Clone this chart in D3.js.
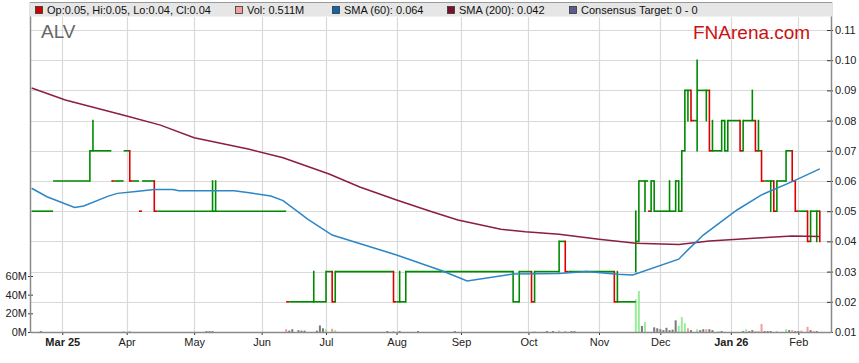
<!DOCTYPE html>
<html>
<head>
<meta charset="utf-8">
<script src="https://cdn.jsdelivr.net/npm/d3@7"></script>
<style>
  body { margin: 0; background: #fff; font-family: Arial, "Liberation Sans", sans-serif; }
  #chart svg { display: block; }
</style>
</head>
<body>
<div id="chart"></div>
<script>
// month ticks (first trading day of each month)
const tickDates = ["2025-03-03", "2025-04-01", "2025-05-01", "2025-06-02", "2025-07-01", "2025-08-01",
  "2025-09-01", "2025-10-01", "2025-11-03", "2025-12-01", "2026-01-01", "2026-02-02"];
const tickLabels = ["Mar 25", "Apr", "May", "Jun", "Jul", "Aug", "Sep", "Oct", "Nov", "Dec", "Jan 26", "Feb"];
const tickBold = ["Mar 25", "Jan 26"];
const priceTicks = [0.01, 0.02, 0.03, 0.04, 0.05, 0.06, 0.07, 0.08, 0.09, 0.10, 0.11];
const volTicks = [0, 20, 40, 60];

// daily price bars (only days where something happened)
const barDates = ["2025-02-17", "2025-02-26", "2025-03-14", "2025-03-17", "2025-03-25", "2025-03-31", "2025-04-02",
  "2025-04-07", "2025-04-08", "2025-04-14", "2025-05-09", "2025-05-12", "2025-06-12", "2025-06-25", "2025-07-01",
  "2025-07-03", "2025-07-04", "2025-07-31", "2025-08-04", "2025-08-06", "2025-09-24", "2025-09-26", "2025-10-02",
  "2025-10-03", "2025-10-15", "2025-10-17", "2025-11-10", "2025-11-11", "2025-11-19", "2025-11-20", "2025-11-24",
  "2025-11-25", "2025-11-26", "2025-11-27", "2025-12-04", "2025-12-08", "2025-12-09", "2025-12-10", "2025-12-11",
  "2025-12-12", "2025-12-15", "2025-12-17", "2025-12-22", "2025-12-23", "2025-12-24", "2025-12-29", "2025-12-30",
  "2025-12-31", "2026-01-06", "2026-01-07", "2026-01-12", "2026-01-13", "2026-01-14", "2026-01-15", "2026-01-20",
  "2026-01-21", "2026-01-22", "2026-01-27", "2026-01-29", "2026-01-30", "2026-02-05", "2026-02-06", "2026-02-10",
  "2026-02-11"];
const barHigh = [0.05, 0.06, 0.07, 0.08, 0.06, 0.07, 0.07, 0.05, 0.06, 0.06, 0.06, 0.06, 0.02, 0.03, 0.03,
  0.03, 0.03, 0.03, 0.03, 0.03, 0.03, 0.03, 0.03, 0.03, 0.04, 0.04, 0.03, 0.03, 0.05, 0.06, 0.06,
  0.05, 0.06, 0.06, 0.06, 0.06, 0.06, 0.07, 0.09, 0.09, 0.09, 0.10, 0.09, 0.09, 0.08, 0.08, 0.08,
  0.08, 0.08, 0.08, 0.09, 0.08, 0.08, 0.07, 0.06, 0.06, 0.06, 0.07, 0.07, 0.06, 0.05, 0.05, 0.05,
  0.05];
const barLow = [0.05, 0.06, 0.06, 0.07, 0.06, 0.07, 0.06, 0.05, 0.06, 0.05, 0.05, 0.05, 0.02, 0.02, 0.02,
  0.02, 0.02, 0.02, 0.02, 0.02, 0.02, 0.02, 0.02, 0.02, 0.03, 0.03, 0.02, 0.02, 0.03, 0.04, 0.05,
  0.05, 0.05, 0.05, 0.05, 0.05, 0.05, 0.05, 0.07, 0.08, 0.08, 0.07, 0.08, 0.07, 0.07, 0.07, 0.07,
  0.07, 0.07, 0.07, 0.08, 0.07, 0.07, 0.06, 0.05, 0.05, 0.05, 0.06, 0.06, 0.05, 0.04, 0.04, 0.04,
  0.04];
const barClose = [0.05, 0.06, 0.07, 0.07, 0.06, 0.07, 0.06, 0.05, 0.06, 0.05, 0.05, 0.05, 0.02, 0.02, 0.03,
  0.02, 0.03, 0.02, 0.02, 0.03, 0.02, 0.03, 0.02, 0.03, 0.04, 0.03, 0.02, 0.02, 0.04, 0.06, 0.06,
  0.05, 0.06, 0.05, 0.05, 0.06, 0.05, 0.07, 0.09, 0.09, 0.08, 0.09, 0.09, 0.07, 0.07, 0.08, 0.07,
  0.08, 0.07, 0.08, 0.08, 0.07, 0.07, 0.06, 0.06, 0.05, 0.06, 0.07, 0.06, 0.05, 0.04, 0.05, 0.05,
  0.04];
const barDown = [0, 0, 0, 0, 1, 0, 1, 1, 0, 1, 0, 0, 1, 0, 0,
  1, 0, 1, 0, 0, 0, 0, 1, 0, 0, 1, 1, 0, 0, 0, 0,
  1, 0, 0, 0, 0, 0, 0, 0, 0, 1, 0, 0, 1, 0, 0, 0,
  0, 1, 0, 0, 1, 0, 1, 0, 1, 0, 0, 1, 1, 1, 0, 0,
  1];

// daily volume in millions, u = up day, d = down day, n = unchanged
const volDates = ["2025-02-20", "2025-03-31", "2025-04-02", "2025-05-07", "2025-05-08", "2025-05-09", "2025-06-12",
  "2025-06-13", "2025-06-16", "2025-06-18", "2025-06-19", "2025-06-20", "2025-06-26", "2025-06-27", "2025-06-30",
  "2025-07-01", "2025-07-03", "2025-07-04", "2025-07-29", "2025-07-31", "2025-08-04", "2025-08-12", "2025-08-28",
  "2025-10-03", "2025-10-09", "2025-10-13", "2025-10-15", "2025-10-17", "2025-10-21", "2025-10-22", "2025-11-19",
  "2025-11-20", "2025-11-21", "2025-11-24", "2025-11-27", "2025-11-28", "2025-12-01", "2025-12-02", "2025-12-03",
  "2025-12-04", "2025-12-05", "2025-12-08", "2025-12-09", "2025-12-10", "2025-12-11", "2025-12-12", "2025-12-15",
  "2025-12-17", "2025-12-18", "2025-12-19", "2025-12-22", "2025-12-23", "2025-12-24", "2025-12-26", "2025-12-29",
  "2026-01-07", "2026-01-08", "2026-01-09", "2026-01-12", "2026-01-13", "2026-01-14", "2026-01-15", "2026-01-16",
  "2026-01-19", "2026-01-20", "2026-01-22", "2026-01-27", "2026-01-28", "2026-01-29", "2026-01-30", "2026-02-02",
  "2026-02-03", "2026-02-05", "2026-02-06", "2026-02-09", "2026-02-10"];
const volValues = [1, 1, 1, 1, 1, 1, 3,
  1.5, 3, 2, 1.5, 1.5, 1.5, 7, 4,
  3, 3.5, 2, 1, 1, 1, 1, 1,
  1, 1, 1, 1.5, 1, 1, 1, 35,
  44, 6.5, 10.5, 5, 4, 3, 2, 4.5,
  2, 2.5, 12.5, 6.5, 16, 9.5, 4, 2,
  3, 2, 3, 3, 3, 2, 1, 1,
  1, 3, 1, 2, 1, 1, 8.5, 1,
  1, 1, 1, 3, 2, 2, 1, 1,
  1.5, 5.5, 2, 1, 1];
const volType = ["n", "u", "d", "n", "n", "n", "d",
  "n", "n", "n", "n", "n", "n", "n", "n",
  "u", "d", "u", "n", "d", "n", "n", "n",
  "u", "n", "n", "u", "d", "n", "n", "u",
  "u", "n", "u", "n", "n", "n", "n", "n",
  "n", "n", "n", "u", "u", "u", "d", "n",
  "u", "n", "n", "d", "n", "n", "u", "n",
  "n", "u", "n", "n", "d", "d", "d", "n",
  "n", "n", "u", "u", "n", "d", "n", "n",
  "d", "d", "n", "d", "n"];

// moving averages
const sma60Dates = ["2025-02-17", "2025-02-24", "2025-03-07", "2025-03-12", "2025-03-24", "2025-03-27", "2025-04-04",
  "2025-04-14", "2025-04-22", "2025-04-24", "2025-05-20", "2025-05-27", "2025-06-05", "2025-06-11", "2025-06-18",
  "2025-06-23", "2025-07-03", "2025-08-01", "2025-08-22", "2025-09-03", "2025-09-24", "2025-10-15", "2025-10-28",
  "2025-11-11", "2025-11-18", "2025-12-09", "2025-12-12", "2025-12-19", "2026-01-05", "2026-01-15", "2026-01-29",
  "2026-02-11"];
const sma60Values = [0.0576, 0.0548, 0.0512, 0.0517, 0.0550, 0.0559, 0.0565,
  0.0572, 0.0572, 0.0568, 0.0568, 0.0561, 0.0550, 0.0535, 0.0497,
  0.0474, 0.0421, 0.0355, 0.0302, 0.0269, 0.0292, 0.0294, 0.0300,
  0.0291, 0.0289, 0.0341, 0.0372, 0.0421, 0.0504, 0.0554, 0.0598,
  0.0640];
const sma200Dates = ["2025-02-17", "2025-03-04", "2025-04-01", "2025-04-16", "2025-05-01", "2025-05-27", "2025-06-11",
  "2025-07-02", "2025-07-16", "2025-08-01", "2025-08-18", "2025-08-29", "2025-09-18", "2025-09-30", "2025-10-15",
  "2025-11-03", "2025-11-19", "2025-12-09", "2025-12-23", "2026-01-15", "2026-01-29", "2026-02-11"];
const sma200Values = [0.0908, 0.0868, 0.0815, 0.0785, 0.0743, 0.0705, 0.0677,
  0.0623, 0.0580, 0.0537, 0.0500, 0.0471, 0.0440, 0.0432, 0.0424,
  0.0407, 0.0394, 0.0390, 0.0401, 0.0412, 0.0418, 0.0416];

// legend entries
const legendLabels = ["Op:0.05, Hi:0.05, Lo:0.04, Cl:0.04", "Vol: 0.511M", "SMA (60): 0.064", "SMA (200): 0.042", "Consensus Target: 0 - 0"];
const legendColors = ["#cc0000", "#f4a0a0", "#1465a8", "#7d0f2e", "#5c5c8c"];
const legendX = [35, 235, 332, 447, 569];

// trading days (weekdays) counted from monday 3 march 2025
const baseDay = Date.UTC(2025, 2, 3);
function wd(s) {
  var days = Math.round((Date.parse(s + "T00:00:00Z") - baseDay) / 864e5);
  var weeks = Math.floor(days / 7);
  var rem = days - weeks * 7;
  return weeks * 5 + Math.min(rem, 5);
}

function StockChart() {
  var self = this;
  self.init();
}

StockChart.prototype.init = function () {
  var self = this;
  self.width = 859;
  self.height = 363;
  self.plot = { left: 31, right: 831, top: 17, bottom: 332 };

  self.svg = d3.select("#chart").append("svg")
    .attr("width", self.width)
    .attr("height", self.height);

  // x is a weekday index, so weekends take no room
  self.x = d3.scaleLinear().domain([-10.2, 250.65]).range([self.plot.left, self.plot.right]);
  self.y = d3.scaleLinear().domain([0.01, 0.1143]).range([self.plot.bottom, self.plot.top]);
  self.yVol = d3.scaleLinear().domain([0, 60]).range([self.plot.bottom, 276]);

  self.green = "#008a00";
  self.red = "#dd0000";
}

StockChart.prototype.drawGrid = function () {
  var self = this;
  var g = self.svg.append("g").attr("class", "grid");

  g.selectAll(".hgrid").data(priceTicks.slice(1)).enter().append("line")
    .attr("x1", self.plot.left).attr("x2", self.plot.right)
    .attr("y1", d => Math.round(self.y(d)) + 0.5).attr("y2", d => Math.round(self.y(d)) + 0.5)
    .attr("stroke", "#d9d9d9").attr("stroke-width", 1.2);

  g.selectAll(".vgrid").data(tickDates).enter().append("line")
    .attr("x1", d => Math.round(self.x(wd(d))) + 0.5).attr("x2", d => Math.round(self.x(wd(d))) + 0.5)
    .attr("y1", self.plot.top).attr("y2", self.plot.bottom)
    .attr("stroke", "#d9d9d9").attr("stroke-width", 1.2);
}

StockChart.prototype.drawVolume = function () {
  var self = this;
  var fill = { u: "#98ee98", d: "#f49c9c", n: "#7a7a7a" };
  self.svg.append("g").selectAll("rect").data(volDates).enter().append("rect")
    .attr("x", d => self.x(wd(d)) - 1)
    .attr("width", 2)
    .attr("y", (d, i) => self.yVol(volValues[i]))
    .attr("height", (d, i) => self.plot.bottom - self.yVol(volValues[i]))
    .attr("fill", (d, i) => fill[volType[i]]);
}

StockChart.prototype.drawPrice = function () {
  var self = this;
  var bars = barDates.map(function (d, i) {
    return { i: wd(d), hi: barHigh[i], lo: barLow[i], close: barClose[i], down: barDown[i] === 1 };
  });

  // horizontal pieces: the first day of a drop is red, the flat days after it green
  var segs = [];
  bars.forEach(function (b, k) {
    var next = bars[k + 1];
    if (!next) return;
    var split = b.i;
    if (b.down) {
      split = Math.min(b.i + 1, next.i);
      segs.push({ x0: b.i, x1: split, y: b.close, down: true });
    }
    if (split < next.i) segs.push({ x0: split, x1: next.i, y: b.close, down: false });
  });

  var g = self.svg.append("g").attr("class", "price");
  g.selectAll(".hseg").data(segs).enter().append("line")
    .attr("x1", d => self.x(d.x0)).attr("x2", d => self.x(d.x1))
    .attr("y1", d => self.y(d.y)).attr("y2", d => self.y(d.y))
    .attr("stroke", d => d.down ? self.red : self.green)
    .attr("stroke-width", 1.6);

  // high - low ranges
  g.selectAll(".vseg").data(bars.filter(b => b.hi > b.lo)).enter().append("line")
    .attr("x1", d => self.x(d.i)).attr("x2", d => self.x(d.i))
    .attr("y1", d => self.y(d.lo) + 0.8).attr("y2", d => self.y(d.hi) - 0.8)
    .attr("stroke", d => d.down ? self.red : self.green)
    .attr("stroke-width", 1.6);
}

StockChart.prototype.drawAverages = function () {
  var self = this;
  var line = d3.line()
    .x(d => self.x(wd(d[0])))
    .y(d => self.y(d[1]));

  self.svg.append("path")
    .datum(d3.zip(sma200Dates, sma200Values))
    .attr("d", line)
    .attr("fill", "none")
    .attr("stroke", "#8c1d44")
    .attr("stroke-width", 1.5);

  self.svg.append("path")
    .datum(d3.zip(sma60Dates, sma60Values))
    .attr("d", line)
    .attr("fill", "none")
    .attr("stroke", "#2d86c6")
    .attr("stroke-width", 1.5);
}

StockChart.prototype.drawAxes = function () {
  var self = this;
  var axisColor = "#8a8a8a";

  // right price axis
  var right = self.svg.append("g")
    .attr("transform", "translate(" + self.plot.right + ",0)")
    .call(d3.axisRight(self.y).tickValues(priceTicks).tickFormat(d3.format(".2f")).tickSize(0).tickPadding(4));
  right.select(".domain").remove();
  right.selectAll(".tick").append("line")
    .attr("x1", -4).attr("x2", 2).attr("stroke", "#333");
  right.selectAll("text").attr("font-size", 11).attr("font-family", "Arial, 'Liberation Sans'").attr("fill", "#222");

  // left volume axis
  var left = self.svg.append("g")
    .attr("transform", "translate(" + self.plot.left + ",0)")
    .call(d3.axisLeft(self.yVol).tickValues(volTicks).tickFormat(d => d + "M").tickSize(0).tickPadding(4));
  left.select(".domain").remove();
  left.selectAll(".tick").append("line")
    .attr("x1", -3).attr("x2", 2).attr("stroke", "#333");
  left.selectAll("text").attr("font-size", 11).attr("font-family", "Arial, 'Liberation Sans'").attr("fill", "#222");

  // bottom month axis
  var bottom = self.svg.append("g")
    .attr("transform", "translate(0," + self.plot.bottom + ")")
    .call(d3.axisBottom(self.x).tickValues(tickDates.map(wd))
      .tickFormat((d, i) => tickLabels[i]).tickSize(3).tickPadding(3));
  bottom.select(".domain").remove();
  bottom.selectAll(".tick line").attr("stroke", "#333");
  bottom.selectAll("text")
    .attr("font-size", 11).attr("font-family", "Arial, 'Liberation Sans'").attr("fill", "#222")
    .attr("font-weight", (d, i) => tickBold.indexOf(tickLabels[i]) >= 0 ? "bold" : "normal");

  // frame lines
  self.svg.append("line")
    .attr("x1", self.plot.left).attr("x2", self.plot.right + 0.5)
    .attr("y1", self.plot.bottom + 0.5).attr("y2", self.plot.bottom + 0.5)
    .attr("stroke", axisColor).attr("stroke-width", 1.5);
  self.svg.append("line")
    .attr("x1", self.plot.left - 0.5).attr("x2", self.plot.left - 0.5)
    .attr("y1", 2).attr("y2", self.plot.bottom + 1)
    .attr("stroke", axisColor).attr("stroke-width", 1.5);
  self.svg.append("line")
    .attr("x1", self.plot.right + 0.5).attr("x2", self.plot.right + 0.5)
    .attr("y1", 2).attr("y2", self.plot.bottom + 1)
    .attr("stroke", axisColor).attr("stroke-width", 1.5);
}

StockChart.prototype.drawLegend = function () {
  var self = this;
  var band = self.svg.append("g").attr("class", "legend");

  band.append("rect")
    .attr("x", self.plot.left - 1).attr("y", 2.5)
    .attr("width", self.plot.right - self.plot.left + 2).attr("height", 14)
    .attr("fill", "#e6e6e6");
  band.append("line")
    .attr("x1", self.plot.left - 1).attr("x2", self.plot.right + 1)
    .attr("y1", 2.5).attr("y2", 2.5)
    .attr("stroke", "#9a9a9a").attr("stroke-width", 1);

  var item = band.selectAll(".item").data(legendLabels).enter().append("g")
    .attr("transform", (d, i) => "translate(" + legendX[i] + ",0)");
  item.append("rect")
    .attr("x", 0.5).attr("y", 6.5).attr("width", 7).attr("height", 7)
    .attr("fill", (d, i) => legendColors[i])
    .attr("stroke", "#333").attr("stroke-width", 0.8);
  item.append("text")
    .attr("x", 12).attr("y", 14)
    .attr("font-size", 11)
    .attr("font-family", "Arial, 'Liberation Sans'")
    .attr("fill", "#111")
    .text(d => d);

  // ticker and watermark
  self.svg.append("text")
    .attr("x", 41).attr("y", 38)
    .attr("font-size", 19).attr("font-family", "Arial, 'Liberation Sans'")
    .attr("fill", "#666")
    .text("ALV");
  self.svg.append("text")
    .attr("x", 693).attr("y", 39)
    .attr("font-size", 19).attr("font-family", "Arial, 'Liberation Sans'")
    .attr("fill", "#cc1111")
    .text("FNArena.com");
}

StockChart.prototype.update = function () {
  var self = this;
  self.drawGrid();
  self.drawVolume();
  self.drawPrice();
  self.drawAverages();
  self.drawAxes();
  self.drawLegend();
}

var chart = new StockChart();
chart.update();
</script>
</body>
</html>
